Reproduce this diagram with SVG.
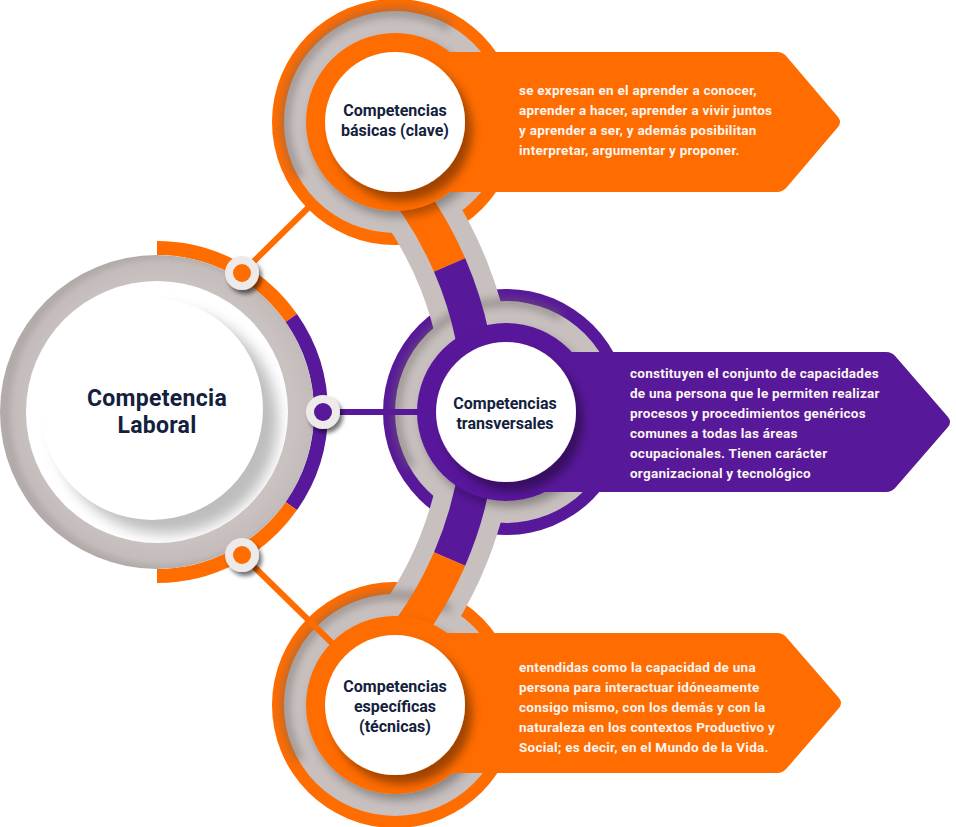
<svg xmlns="http://www.w3.org/2000/svg" width="956" height="827" viewBox="0 0 956 827">
  <style>
    .orange { fill: #ff6c00; }
    .purple { fill: #58189a; }
    .grey { fill: #c8c0bf; }
    .white { fill: #ffffff; }
    .label { font-family: Roboto, "Liberation Sans", sans-serif; font-weight: 700; fill: #14213d; text-anchor: middle; }
    .node-label { font-size: 16px; }
    .main-label { font-size: 23px; letter-spacing: 0.3px; }
    .desc { font-family: Roboto, "Liberation Sans", sans-serif; font-weight: 700; font-size: 13.5px; letter-spacing: 0.25px; fill: #fbf5f2; }
    .stem { fill: none; stroke-width: 34; }
    .link { stroke-width: 6; fill: none; }
  </style>
  <defs>
    <filter id="softShadow" x="-30%" y="-30%" width="160%" height="160%">
      <feDropShadow dx="7" dy="9" stdDeviation="5" flood-color="#000" flood-opacity="0.38"/>
    </filter>
    <filter id="discShadow" x="-30%" y="-30%" width="160%" height="160%">
      <feDropShadow dx="4" dy="6" stdDeviation="5" flood-color="#000" flood-opacity="0.3"/>
    </filter>
    <filter id="dotShadow" x="-50%" y="-50%" width="200%" height="200%">
      <feDropShadow dx="3" dy="4" stdDeviation="2" flood-color="#000" flood-opacity="0.55"/>
    </filter>
    <filter id="blur7" x="-30%" y="-30%" width="160%" height="160%">
      <feGaussianBlur stdDeviation="7"/>
    </filter>
    <filter id="blur4" x="-30%" y="-30%" width="160%" height="160%">
      <feGaussianBlur stdDeviation="4"/>
    </filter>
    <clipPath id="mainFace">
      <circle cx="157" cy="412" r="131"/>
    </clipPath>
    <radialGradient id="mainRing" cx="0.52" cy="0.5" r="0.5">
      <stop offset="0.83" stop-color="#c9c2c1"/>
      <stop offset="0.95" stop-color="#c4bcbb"/>
      <stop offset="1" stop-color="#b3abaa"/>
    </radialGradient>
  </defs>

  <!-- ring discs behind the three stage nodes, plus the curved spine -->
  <g id="backdrop">
    <circle class="orange" cx="395" cy="122" r="123"/>
    <circle class="purple" cx="506" cy="412" r="123"/>
    <circle class="orange" cx="395" cy="705" r="123"/>

    <path d="M384.96,164.42 A370,370 0 0 1 384.96,659.58" fill="none" stroke="#c8c0bf" stroke-width="72"/>

    <circle class="grey" cx="395" cy="122" r="111"/>
    <circle class="grey" cx="506" cy="412" r="111"/>
    <circle class="grey" cx="395" cy="705" r="111"/>

    <!-- darker rim on the upper-left of each grey ring -->
    <g opacity="0.55" filter="url(#blur4)">
      <path d="M299.9,176.9 A110,110 0 0 1 450,26.7" fill="none" stroke="#6f6767" stroke-width="8"/>
      <path d="M410.9,466.9 A110,110 0 0 1 561,316.7" fill="none" stroke="#6f6767" stroke-width="8"/>
      <path d="M299.9,759.9 A110,110 0 0 1 450,609.7" fill="none" stroke="#6f6767" stroke-width="8"/>
    </g>

    <path class="stem" d="M384.96,164.42 A370,370 0 0 1 449.6,265.1" stroke="#ff6c00"/>
    <path class="stem" d="M449.6,265.1 A370,370 0 0 1 449.6,558.9" stroke="#58189a"/>
    <path class="stem" d="M449.6,558.9 A370,370 0 0 1 384.96,659.58" stroke="#ff6c00"/>
  </g>

  <!-- connectors from the main circle to each stage -->
  <g id="connectors">
    <line class="link" x1="242" y1="273" x2="311" y2="205" stroke="#ff6c00"/>
    <line class="link" x1="323" y1="412" x2="432" y2="412" stroke="#58189a"/>
    <line class="link" x1="242" y1="555" x2="334" y2="645" stroke="#ff6c00"/>
  </g>

  <!-- inner discs of the stage nodes -->
  <g id="inner-discs">
    <circle class="orange" cx="395" cy="122" r="89" filter="url(#discShadow)"/>
    <circle class="purple" cx="506" cy="412" r="89" filter="url(#discShadow)"/>
    <circle class="orange" cx="395" cy="705" r="89" filter="url(#discShadow)"/>
  </g>

  <g id="competencia-laboral">
    <path d="M157,248 A164,164 0 0 1 291.3,317.9" fill="none" stroke="#ff6c00" stroke-width="14"/>
    <path d="M291.3,317.9 A164,164 0 0 1 291.3,506.1" fill="none" stroke="#58189a" stroke-width="14"/>
    <path d="M291.3,506.1 A164,164 0 0 1 157,576" fill="none" stroke="#ff6c00" stroke-width="14"/>
    <circle cx="157" cy="412" r="157" fill="url(#mainRing)"/>
    <circle class="white" cx="157" cy="412" r="131"/>
    <g clip-path="url(#mainFace)">
      <circle cx="166" cy="422" r="112" fill="#bdbdbd" filter="url(#blur7)"/>
      <circle class="white" cx="152" cy="409" r="111"/>
    </g>
    <text class="label main-label" x="157" y="406">Competencia</text>
    <text class="label main-label" x="157" y="433">Laboral</text>
    <g filter="url(#dotShadow)">
      <circle cx="242" cy="273" r="17" fill="#eeeaea"/>
      <circle cx="323" cy="412" r="17" fill="#eeeaea"/>
      <circle cx="242" cy="555" r="17" fill="#eeeaea"/>
    </g>
    <circle class="orange" cx="242" cy="273" r="9"/>
    <circle class="purple" cx="323" cy="412" r="9"/>
    <circle class="orange" cx="242" cy="555" r="9"/>
  </g>

  <g id="competencias-basicas">
    <path class="orange" d="M395,52 H777 Q783,52 787,57 L838,117 Q842,122 838,127 L787,187 Q783,192 777,192 H395 Z"/>
    <circle class="white" cx="395" cy="122" r="70" filter="url(#softShadow)"/>
    <text class="label node-label" x="395" y="116">Competencias</text>
    <text class="label node-label" x="395" y="136">básicas (clave)</text>
    <text class="desc" x="519" y="95">se expresan en el aprender a conocer,</text>
    <text class="desc" x="519" y="115">aprender a hacer, aprender a vivir juntos</text>
    <text class="desc" x="519" y="135">y aprender a ser, y además posibilitan</text>
    <text class="desc" x="519" y="155">interpretar, argumentar y proponer.</text>
  </g>

  <g id="competencias-transversales">
    <path class="purple" d="M506,352 H886 Q892,352 896,357 L948,417 Q952,422 948,427 L896,487 Q892,492 886,492 H506 Z"/>
    <circle class="white" cx="506" cy="412" r="70" filter="url(#softShadow)"/>
    <text class="label node-label" x="505" y="409">Competencias</text>
    <text class="label node-label" x="505" y="429">transversales</text>
    <text class="desc" x="630" y="378">constituyen el conjunto de capacidades</text>
    <text class="desc" x="630" y="398">de una persona que le permiten realizar</text>
    <text class="desc" x="630" y="418">procesos y procedimientos genéricos</text>
    <text class="desc" x="630" y="438">comunes a todas las áreas</text>
    <text class="desc" x="630" y="458">ocupacionales. Tienen carácter</text>
    <text class="desc" x="630" y="478">organizacional y tecnológico</text>
  </g>

  <g id="competencias-especificas">
    <path class="orange" d="M395,633 H777 Q783,633 787,638 L839,698 Q843,703 839,708 L787,768 Q783,773 777,773 H395 Z"/>
    <circle class="white" cx="395" cy="705" r="70" filter="url(#softShadow)"/>
    <text class="label node-label" x="395" y="692">Competencias</text>
    <text class="label node-label" x="395" y="712">específicas</text>
    <text class="label node-label" x="395" y="732">(técnicas)</text>
    <text class="desc" x="519" y="672">entendidas como la capacidad de una</text>
    <text class="desc" x="519" y="692">persona para interactuar idóneamente</text>
    <text class="desc" x="519" y="712">consigo mismo, con los demás y con la</text>
    <text class="desc" x="519" y="732">naturaleza en los contextos Productivo y</text>
    <text class="desc" x="519" y="752">Social; es decir, en el Mundo de la Vida.</text>
  </g>
</svg>
